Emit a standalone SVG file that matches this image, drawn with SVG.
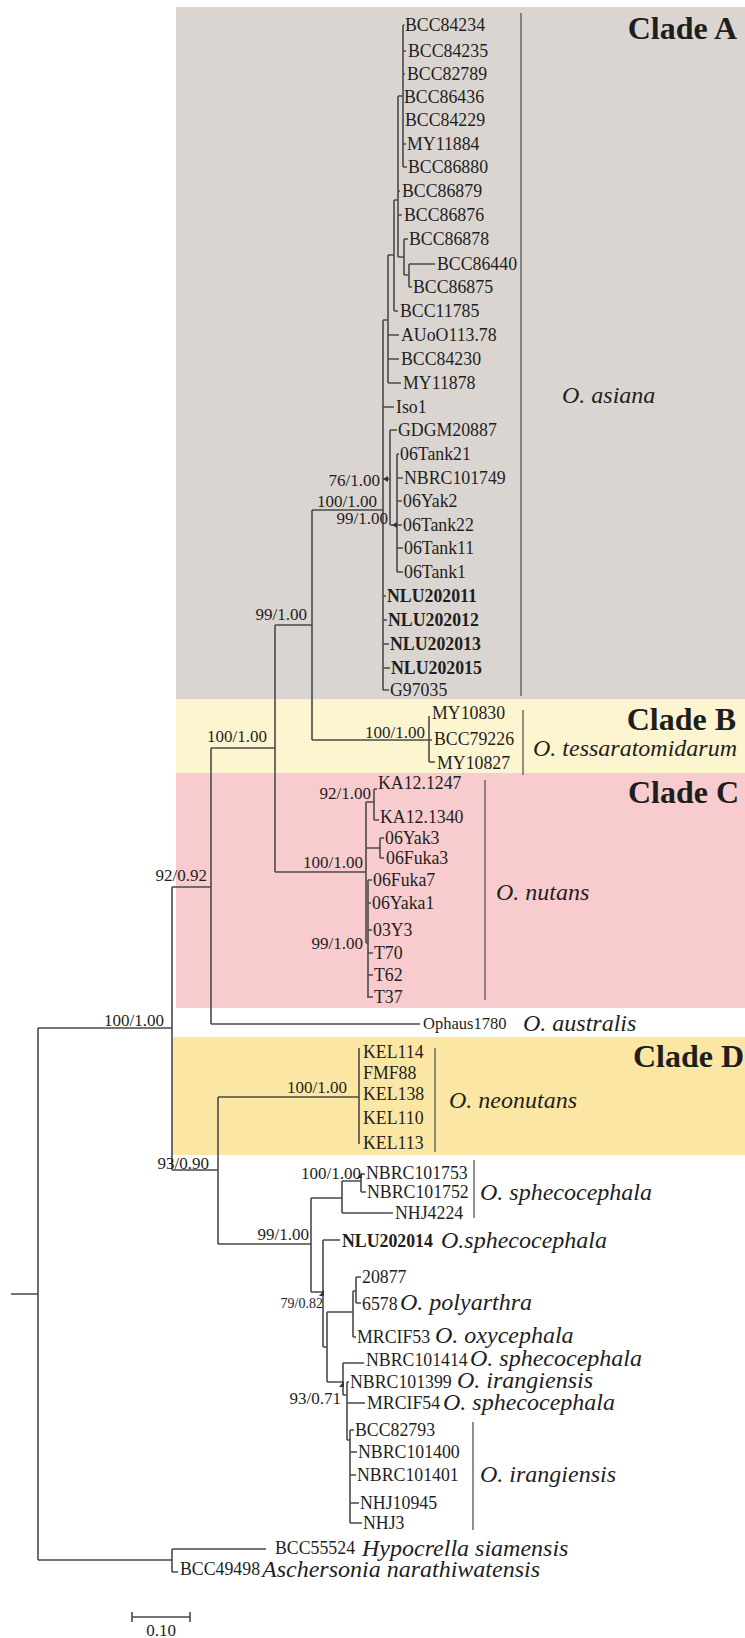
<svg xmlns="http://www.w3.org/2000/svg" width="745" height="1638" viewBox="0 0 745 1638">
<style>
text{font-family:"Liberation Serif","Times New Roman",serif;fill:#1e1e1e}
.t{font-size:17.8px}
.b{font-weight:bold}
.s{font-size:17px}
.s2{font-size:14px}
.sp{font-style:italic;font-size:24px}
.cl{font-weight:bold;font-size:32px}
.ln{stroke:#4a4a4a;stroke-width:1.6;fill:none}
.bar{stroke:#555;stroke-width:1.3;fill:none}
.mk{fill:#333}
</style>
<rect width="745" height="1638" fill="#ffffff"/>
<g id="backgrounds">
<rect x="176" y="7" width="569" height="692" fill="#dbd5d1"/>
<rect x="176" y="699" width="569" height="74" fill="#fdf5d0"/>
<rect x="176" y="773" width="569" height="235" fill="#f8ccce"/>
<rect x="172" y="1037" width="573" height="118" fill="#fbe7a3"/>
</g>
<g id="connectors" class="ln">
<path d="M11,1294H38M38,1028V1560M38,1028H172M38,1560H172"/>
<path d="M172,1549V1572M172,1549H266M172,1572H178"/>
<path d="M172,887V1170M172,887H211M172,1170H218"/>
<path d="M211,748V1024M211,748H275M211,1024H420"/>
<path d="M275,625V872M275,625H312M275,872H366"/>
<path d="M312,510V740M312,510H383M312,740H429"/>
<path d="M429,716V762M429,740H432M429,762H435"/>
<path d="M383,320V690M383,320H388"/>
<path d="M388,255V383M388,255H394M388,335H399M388,359H399M388,383H401"/>
<path d="M394,200V311M394,200H398M394,311H398"/>
<path d="M398,96V257M398,96H403M398,191H400M398,215H402M398,257H404"/>
<path d="M403,25V167M403,25H404.5M403,51H406M403,74H405M403,120H404M403,144H406M403,167H407"/>
<path d="M404,239V275M404,239H408M404,275H409"/>
<path d="M409,264V287M409,264H435M409,287H412"/>
<path d="M383,407H394M383,479H390M390,430V525M390,430H397M390,525H397"/>
<path d="M397,454V572M397,454H399M397,478H403M397,501H402M397,525H402M397,548H403M397,572H403"/>
<path d="M383,596H386M383,620H387M383,644H389M383,668H390M383,690H389"/>
<path d="M366,802V943M366,802H374M374,789V820M374,789H377M374,820H379"/>
<path d="M366,848H380M380,838V858M380,838H384M380,858H384"/>
<path d="M366,943H368M368,880V998M368,880H372M368,903H371M368,930H372M368,953H373M368,975H373M368,997H373"/>
<path d="M359,1048V1144M218,1097H359"/>
<path d="M218,1097V1244M218,1244H311"/>
<path d="M311,1198V1292M311,1198H342M311,1292H323"/>
<path d="M342,1181V1213M342,1181H361M342,1213H393M361,1174V1192M361,1174H365M361,1192H366"/>
<path d="M323,1240V1347M323,1240H340M323,1347H327"/>
<path d="M327,1312V1382M327,1312H353M327,1382H343"/>
<path d="M353,1291V1337M353,1291H356M353,1337H356M356,1277V1303M356,1277H361M356,1303H361"/>
<path d="M343,1363V1395M343,1363H364M343,1395H347"/>
<path d="M347,1382V1440M347,1382H349M347,1403H365M347,1440H350"/>
<path d="M350,1430V1523M350,1430H354M350,1452H357M350,1475H356M350,1503H359M350,1523H362"/>
</g>
<g id="node-markers" class="mk">
<path d="M383,479l5,-3v6z"/>
<path d="M392,525l5,-3v6z"/>
<path d="M357,1178l5,-5v5z"/>
<path d="M319,1296l5,-6v6z"/>
<path d="M339,1387l5,-6v6z"/>
</g>
<g id="clade-bars" class="bar">
<path d="M521,13V696"/>
<path d="M523,710V775"/>
<path d="M485,780V1000"/>
<path d="M435,1048V1152"/>
<path d="M474,1160V1218"/>
<path d="M473,1422V1530"/>
</g>
<g id="clade-A-tips" class="t">
<text x="405" y="31">BCC84234</text>
<text x="408" y="57">BCC84235</text>
<text x="407" y="80">BCC82789</text>
<text x="404" y="103">BCC86436</text>
<text x="405" y="126">BCC84229</text>
<text x="407" y="150">MY11884</text>
<text x="408" y="173">BCC86880</text>
<text x="402" y="197">BCC86879</text>
<text x="404" y="221">BCC86876</text>
<text x="409" y="245">BCC86878</text>
<text x="437" y="270">BCC86440</text>
<text x="413" y="293">BCC86875</text>
<text x="400" y="317">BCC11785</text>
<text x="401" y="341">AUoO113.78</text>
<text x="401" y="365">BCC84230</text>
<text x="403" y="389">MY11878</text>
<text x="396" y="413">Iso1</text>
<text x="398" y="436">GDGM20887</text>
<text x="400" y="460">06Tank21</text>
<text x="404" y="484">NBRC101749</text>
<text x="403" y="507">06Yak2</text>
<text x="403" y="531">06Tank22</text>
<text x="404" y="554">06Tank11</text>
<text x="404" y="578">06Tank1</text>
<text x="387" y="602" class="b">NLU202011</text>
<text x="388" y="626" class="b">NLU202012</text>
<text x="390" y="650" class="b">NLU202013</text>
<text x="391" y="674" class="b">NLU202015</text>
<text x="390" y="696">G97035</text>
</g>
<g id="clade-B-tips" class="t">
<text x="432" y="719">MY10830</text>
<text x="434" y="745">BCC79226</text>
<text x="437" y="769">MY10827</text>
</g>
<g id="clade-C-tips" class="t">
<text x="378" y="789">KA12.1247</text>
<text x="380" y="823">KA12.1340</text>
<text x="385" y="844">06Yak3</text>
<text x="386" y="864">06Fuka3</text>
<text x="373" y="886">06Fuka7</text>
<text x="372" y="909">06Yaka1</text>
<text x="373" y="936">03Y3</text>
<text x="374" y="959">T70</text>
<text x="374" y="981">T62</text>
<text x="374" y="1003">T37</text>
</g>
<g id="australis">
<text x="423" y="1029" style="font-size:16.5px">Ophaus1780</text>
<text x="523" y="1031" class="sp">O. australis</text>
</g>
<g id="clade-D-tips" class="t">
<text x="363" y="1058">KEL114</text>
<text x="363" y="1079">FMF88</text>
<text x="363" y="1100">KEL138</text>
<text x="363" y="1124">KEL110</text>
<text x="363" y="1149">KEL113</text>
</g>
<g id="sphecocephala-tips" class="t">
<text x="366" y="1179">NBRC101753</text>
<text x="367" y="1198">NBRC101752</text>
<text x="395" y="1219">NHJ4224</text>
<text x="342" y="1247" class="b">NLU202014</text>
<text x="362" y="1283">20877</text>
<text x="362" y="1310">6578</text>
<text x="357" y="1343">MRCIF53</text>
<text x="366" y="1366">NBRC101414</text>
<text x="350" y="1388">NBRC101399</text>
<text x="367" y="1409">MRCIF54</text>
<text x="355" y="1436">BCC82793</text>
<text x="358" y="1458">NBRC101400</text>
<text x="357" y="1481">NBRC101401</text>
<text x="360" y="1509">NHJ10945</text>
<text x="363" y="1529">NHJ3</text>
</g>
<g id="outgroup-tips" class="t">
<text x="275" y="1554">BCC55524</text>
<text x="180" y="1575">BCC49498</text>
</g>
<g id="species-names" class="sp">
<text x="562" y="403">O. asiana</text>
<text x="737" y="756" text-anchor="end">O. tessaratomidarum</text>
<text x="496" y="900">O. nutans</text>
<text x="449" y="1108">O. neonutans</text>
<text x="480" y="1200">O. sphecocephala</text>
<text x="441" y="1248">O.sphecocephala</text>
<text x="400" y="1310">O. polyarthra</text>
<text x="435" y="1343">O. oxycephala</text>
<text x="470" y="1366">O. sphecocephala</text>
<text x="457" y="1388">O. irangiensis</text>
<text x="443" y="1410">O. sphecocephala</text>
<text x="480" y="1482">O. irangiensis</text>
<text x="362" y="1556">Hypocrella siamensis</text>
<text x="262" y="1577">Aschersonia narathiwatensis</text>
</g>
<g id="clade-labels" class="cl">
<text x="737" y="39" text-anchor="end">Clade A</text>
<text x="736" y="730" text-anchor="end">Clade B</text>
<text x="739" y="803" text-anchor="end">Clade C</text>
<text x="744" y="1067" text-anchor="end">Clade D</text>
</g>
<g id="support-values" class="s" text-anchor="end">
<text x="377" y="507">100/1.00</text>
<text x="380" y="486">76/1.00</text>
<text x="388" y="524">99/1.00</text>
<text x="307" y="620">99/1.00</text>
<text x="425" y="738">100/1.00</text>
<text x="267" y="742">100/1.00</text>
<text x="371" y="799">92/1.00</text>
<text x="363" y="868">100/1.00</text>
<text x="207" y="881">92/0.92</text>
<text x="363" y="949">99/1.00</text>
<text x="164" y="1026">100/1.00</text>
<text x="347" y="1093">100/1.00</text>
<text x="209" y="1169">93/0.90</text>
<text x="361" y="1179">100/1.00</text>
<text x="309" y="1240">99/1.00</text>
<text x="323" y="1308" class="s2">79/0.82</text>
<text x="341" y="1404">93/0.71</text>
</g>
<g id="scale-bar">
<path class="ln" d="M132,1617H190M132,1612V1622M190,1612V1622"/>
<text x="161" y="1636" class="s" text-anchor="middle">0.10</text>
</g>
</svg>
